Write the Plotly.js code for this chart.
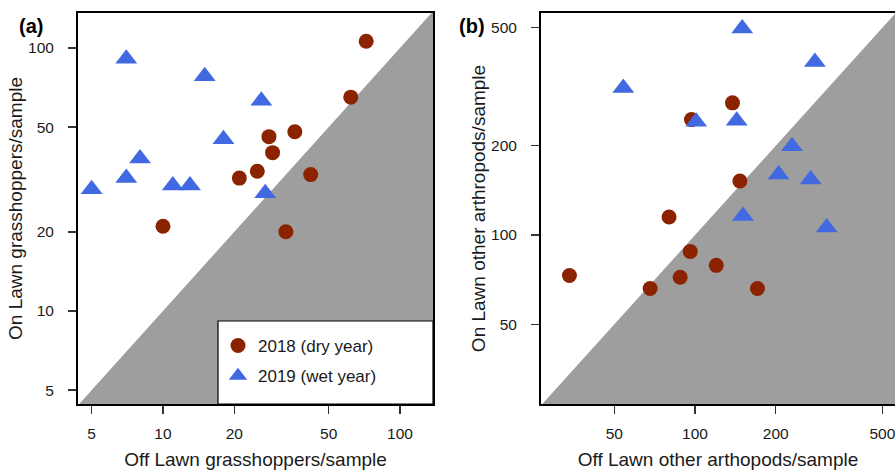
<!DOCTYPE html>
<html>
<head>
<meta charset="utf-8">
<script src="https://cdn.plot.ly/plotly-3.0.1.min.js"></script>
<style>html,body{margin:0;padding:0;background:#fff;overflow:hidden}#chart{width:895px;height:470px}</style>
</head>
<body>
<div id="chart"></div>
<script>
// Panel (a): grasshoppers per sample
var aOff2018 = [72, 62, 36, 28, 29, 25, 21, 42, 10, 33];
var aOn2018  = [106, 65, 48, 46, 40, 34, 32, 33, 21, 20];
var aOff2019 = [7, 15, 26, 18, 8, 7, 5, 11, 13, 27];
var aOn2019  = [91, 78, 63, 45, 38, 32, 29, 30, 30, 28];

// Panel (b): other arthropods per sample
var bOff2018 = [138, 97, 147, 80, 34, 68, 88, 96, 120, 171];
var bOn2018  = [279, 245, 152, 115, 73, 66, 72, 88, 79, 66];
var bOff2019 = [150, 280, 54, 101, 143, 230, 205, 270, 151, 310];
var bOn2019  = [497, 383, 313, 241, 243, 199, 160, 154, 116, 106];

var aTicks = [5, 10, 20, 50, 100];
var bTicks = [50, 100, 200, 500];
var seriesNames = ['2018 (dry year)', '2019 (wet year)'];

var RED = '#8B2300', BLUE = '#4169E1', SHADE = '#9e9e9e';
var FONT = 'Liberation Sans, Arial, Helvetica, sans-serif';
var TXT = '#1a1a1a';

// identity line region (y < x), clipped by plot area
var diagX = [1, 5000, 5000];
var diagY = [1, 5000, 1];

function shade(xa, ya) {
  return {x: diagX, y: diagY, xaxis: xa, yaxis: ya, mode: 'lines', fill: 'toself',
    fillcolor: SHADE, line: {width: 0, color: SHADE}, hoverinfo: 'skip', showlegend: false};
}
function pts(x, y, xa, ya, sym, col, sz, name, leg, grp) {
  return {x: x, y: y, xaxis: xa, yaxis: ya, type: 'scatter', mode: 'markers', name: name,
    showlegend: leg, legendgroup: grp, cliponaxis: false,
    marker: {symbol: sym, color: col, size: sz, line: {width: 0}}};
}

var data = [
  shade('x', 'y'),
  pts(aOff2018, aOn2018, 'x', 'y', 'circle', RED, 15, seriesNames[0], true, 'g18'),
  pts(aOff2019, aOn2019, 'x', 'y', 'triangle-up', BLUE, 19, seriesNames[1], true, 'g19'),
  shade('x2', 'y2'),
  pts(bOff2018, bOn2018, 'x2', 'y2', 'circle', RED, 15, seriesNames[0], false, 'g18'),
  pts(bOff2019, bOn2019, 'x2', 'y2', 'triangle-up', BLUE, 19, seriesNames[1], false, 'g19')
];

var W = 895, H = 470;
function px(v) { return v / W; }
function py(v) { return (H - v) / H; }

function axisBase(extra) {
  var o = {type: 'log', showgrid: false, zeroline: false, showline: true, linecolor: '#000',
    linewidth: 2, ticks: 'outside', ticklen: 8, tickwidth: 1.5, tickcolor: '#333',
    tickmode: 'array', ticklabeloverflow: 'allow',
    tickfont: {family: FONT, size: 15.5, color: TXT}, automargin: false};
  for (var k in extra) o[k] = extra[k];
  return o;
}

var layout = {
  width: W, height: H,
  margin: {l: 0, r: 0, t: 0, b: 0},
  paper_bgcolor: '#fff', plot_bgcolor: '#fff',
  font: {family: FONT, color: TXT},
  showlegend: true,
  legend: {x: px(218), y: py(328), xanchor: 'left', yanchor: 'top', bgcolor: 'rgba(0,0,0,0)',
    borderwidth: 0, traceorder: 'grouped', tracegroupgap: 5,
    font: {family: FONT, size: 17, color: TXT}},
  xaxis: axisBase({domain: [px(78), px(433)], anchor: 'y', mirror: true,
    range: [Math.log10(4.38), Math.log10(137.8)], tickvals: aTicks, ticktext: aTicks.map(String),
    ticklabelstandoff: 6,
    title: {text: 'Off Lawn grasshoppers/sample', font: {family: FONT, size: 19, color: TXT}, standoff: 13}}),
  yaxis: axisBase({domain: [py(404), py(13)], anchor: 'x', mirror: true,
    range: [Math.log10(4.43), Math.log10(135.8)], tickvals: aTicks, ticktext: aTicks.map(String),
    ticklabelstandoff: 11,
    title: {text: 'On Lawn grasshoppers/sample', font: {family: FONT, size: 19, color: TXT}, standoff: 0}}),
  xaxis2: axisBase({domain: [px(541), 1], anchor: 'y2', mirror: true,
    range: [1.4254, 2.746], tickvals: bTicks, ticktext: bTicks.map(String),
    ticklabelstandoff: 6,
    title: {text: 'Off Lawn other arthopods/sample', font: {family: FONT, size: 19, color: TXT}, standoff: 13}}),
  yaxis2: axisBase({domain: [py(404), py(13)], anchor: 'x2', mirror: false,
    range: [1.4302, 2.7485], tickvals: bTicks, ticktext: bTicks.map(String),
    ticklabelstandoff: 11,
    title: {text: 'On Lawn other arthropods/sample', font: {family: FONT, size: 19, color: TXT}, standoff: 0}}),
  shapes: [
    {type: 'rect', xref: 'paper', yref: 'paper', x0: px(218), x1: px(433), y0: py(404), y1: py(321),
     fillcolor: '#fff', line: {color: '#000', width: 1.2}, layer: 'above'}
  ],
  annotations: [
    {text: '<b>(a)</b>', xref: 'paper', yref: 'paper', x: px(31), y: py(26), xanchor: 'center', yanchor: 'middle',
     showarrow: false, font: {family: FONT, size: 20, color: '#000'}},
    {text: '<b>(b)</b>', xref: 'paper', yref: 'paper', x: px(472), y: py(26), xanchor: 'center', yanchor: 'middle',
     showarrow: false, font: {family: FONT, size: 20, color: '#000'}}
  ]
};

Plotly.newPlot('chart', data, layout, {displayModeBar: false, staticPlot: true});
</script>
</body>
</html>
